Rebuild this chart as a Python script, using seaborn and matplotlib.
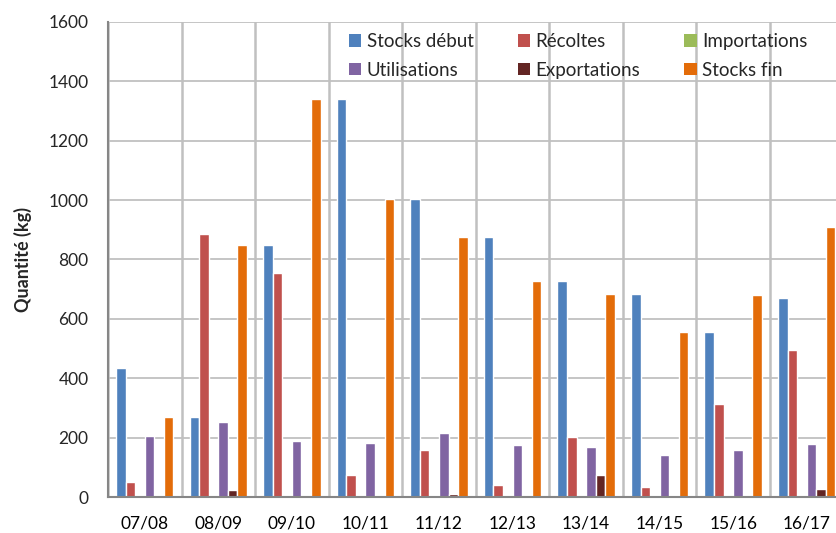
import matplotlib
matplotlib.use("Agg")
import matplotlib.pyplot as plt
import seaborn as sns
import pandas as pd
import numpy as np
from matplotlib.patches import Patch

categories = ["07/08", "08/09", "09/10", "10/11", "11/12", "12/13", "13/14", "14/15", "15/16", "16/17"]
stocks_debut = [435, 268, 848, 1340, 1005, 875, 727, 683, 555, 670]
recoltes = [52, 885, 755, 75, 159, 41, 203, 35, 314, 495]
importations = [0, 0, 0, 0, 0, 0, 0, 0, 0, 0]
utilisations = [207, 251, 190, 183, 216, 174, 169, 142, 159, 180]
exportations = [0, 22, 5, 0, 11, 0, 75, 0, 4, 28]
stocks_fin = [268, 848, 1340, 1005, 875, 727, 683, 555, 680, 910]

series_names = ["Stocks début", "Récoltes", "Importations", "Utilisations", "Exportations", "Stocks fin"]
series_values = [stocks_debut, recoltes, importations, utilisations, exportations, stocks_fin]
colors = ["#4F81BD", "#C0504D", "#9BBB59", "#8064A2", "#632523", "#E36C09"]

rows = []
for name, vals in zip(series_names, series_values):
    for c, v in zip(categories, vals):
        rows.append({"Campagne": c, "Série": name, "Valeur": v})
df = pd.DataFrame(rows)

sns.set_style("white")
plt.rcParams['font.family'] = ['Lato', 'DejaVu Sans']

fig = plt.figure(figsize=(8.37, 5.33), dpi=100)
ax = fig.add_axes([108/837, 1-497/533, 735.5/837, 475/533])

sns.barplot(data=df, x="Campagne", y="Valeur", hue="Série", hue_order=series_names,
            order=categories, palette=colors, width=0.78, dodge=True, ax=ax,
            saturation=1, legend=False, errorbar=None)

ax.set_xlim(-0.5, len(categories) - 0.5)
ax.set_ylim(0, 1600)
ax.set_yticks(np.arange(0, 1601, 200))
ax.set_xticks(np.arange(len(categories)))
ax.set_xticklabels(categories)
ax.set_xticks(np.arange(-0.5, len(categories), 1), minor=True)

ax.grid(False)
ax.yaxis.grid(True, which="major", color="#C0C0C0", linewidth=1.3)
ax.xaxis.grid(True, which="minor", color="#C0C0C0", linewidth=1.8)
ax.set_axisbelow(True)

ax.tick_params(axis="x", which="major", length=0, pad=13, labelsize=12.5, colors="#000000")
ax.tick_params(axis="x", which="minor", length=6, width=1.5, color="#868686", direction="out")
ax.tick_params(axis="y", which="major", length=6, width=1.5, color="#868686", direction="out",
               labelsize=12.5, pad=8)

for s in ["top", "right"]:
    ax.spines[s].set_visible(False)
for s in ["left", "bottom"]:
    ax.spines[s].set_color("#868686")
    ax.spines[s].set_linewidth(1.5)

ax.set_xlabel("")
ax.set_ylabel("Quantité (kg)", fontsize=13, fontweight="bold", labelpad=12)

handles = [Patch(facecolor=c, edgecolor="none") for c in colors]
order = [0, 3, 1, 4, 2, 5]
leg = fig.legend([handles[i] for i in order], [series_names[i] for i in order],
                 ncol=3, loc="upper left", bbox_to_anchor=(349/837, 1-33/533),
                 frameon=False, fontsize=13.5, handlelength=0.65, handleheight=0.65,
                 handletextpad=0.3, columnspacing=2.35, labelspacing=0.62,
                 borderaxespad=0, borderpad=0)

fig.savefig("out.png", dpi=100)
